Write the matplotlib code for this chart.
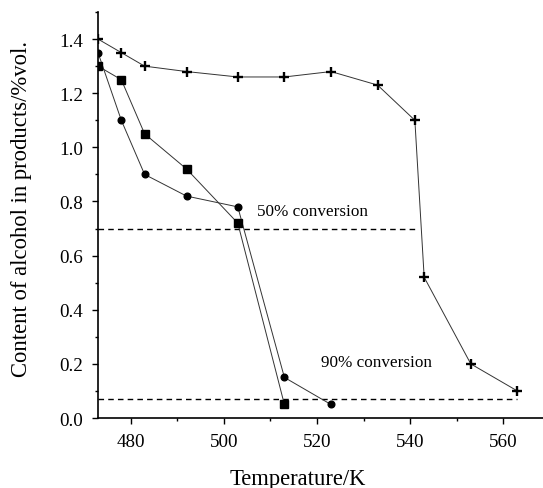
import matplotlib
matplotlib.use("Agg")
import matplotlib.pyplot as plt
from matplotlib.ticker import MultipleLocator

plt.rcParams['font.family'] = ['Liberation Serif', 'DejaVu Serif']

# data
temp_plus = [473, 478, 483, 492, 503, 513, 523, 533, 541, 543, 553, 563]
alc_plus = [1.40, 1.35, 1.30, 1.28, 1.26, 1.26, 1.28, 1.23, 1.10, 0.52, 0.20, 0.10]
temp_circ = [473, 478, 483, 492, 503, 513, 523]
alc_circ = [1.35, 1.10, 0.90, 0.82, 0.78, 0.15, 0.05]
temp_sq = [473, 478, 483, 492, 503, 513]
alc_sq = [1.30, 1.25, 1.05, 0.92, 0.72, 0.05]

conv50 = 0.70
conv90 = 0.07

fig = plt.figure(figsize=(5.43, 4.89), dpi=100)
ax = fig.add_axes([0.1805, 0.1431, 0.8195, 0.8303])

lc = '#333333'
ax.plot(temp_plus, alc_plus, color=lc, lw=0.7, zorder=3)
ax.plot(temp_plus, alc_plus, ls='none', marker='+', ms=6.5, mew=1.7, color='black', zorder=4)
ax.plot(temp_circ, alc_circ, color=lc, lw=0.7, marker='o', ms=4.8, mfc='black', mec='black', zorder=4)
ax.plot(temp_sq, alc_sq, color=lc, lw=0.7, marker='s', ms=6, mfc='black', mec='black', zorder=4)

ax.plot([473, 541], [conv50, conv50], color='black', ls=(0, (4, 3)), lw=1)
ax.plot([473, 563], [conv90, conv90], color='black', ls=(0, (4, 3)), lw=1)
ax.text(507.1, 0.765, '50% conversion', fontsize=12.3, va='center', ha='left')
ax.text(520.9, 0.208, '90% conversion', fontsize=12.3, va='center', ha='left')

ax.set_xlim(473, 568.5)
ax.set_ylim(0, 1.5)
ax.xaxis.set_minor_locator(MultipleLocator(10))
ax.yaxis.set_minor_locator(MultipleLocator(0.1))
ax.set_yticks([0, 0.2, 0.4, 0.6, 0.8, 1.0, 1.2, 1.4])
ax.set_yticklabels(['0.0', '0.2', '0.4', '0.6', '0.8', '1.0', '1.2', '1.4'])
ax.set_xticks([480, 500, 520, 540, 560])

for s in ['top', 'right']:
    ax.spines[s].set_visible(False)
ax.spines['left'].set_linewidth(1.2)
ax.spines['bottom'].set_linewidth(1.2)
ax.tick_params(which='major', direction='out', length=4.5, width=1, labelsize=13.7, pad=6)
ax.tick_params(which='minor', direction='out', length=2.5, width=1)

ax.set_xlabel('Temperature/K', fontsize=16.3)
ax.set_ylabel('Content of alcohol in products/%vol.', fontsize=16.3)
ax.xaxis.set_label_coords(0.449, -0.122)
ax.yaxis.set_label_coords(-0.148, 0.518)

fig.savefig('out.png', dpi=100)
